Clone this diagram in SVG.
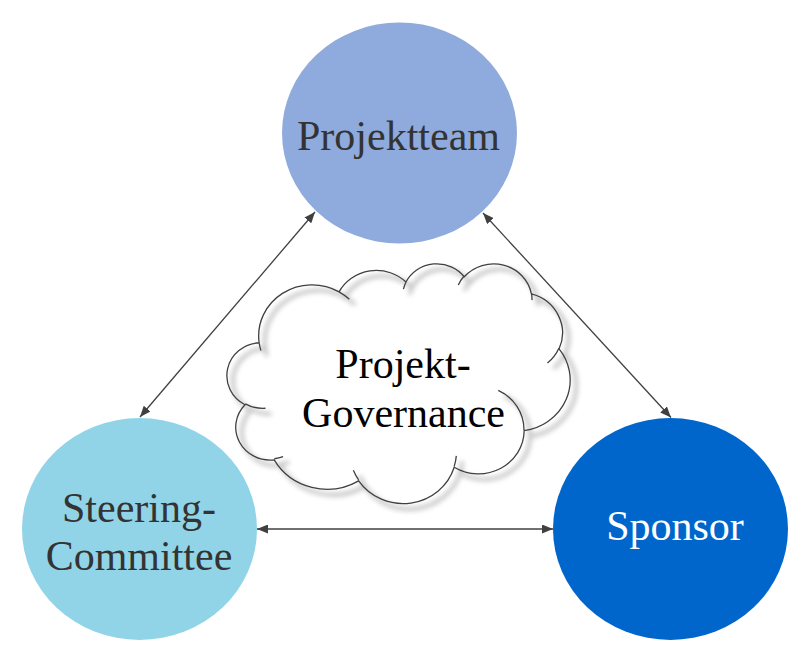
<svg xmlns="http://www.w3.org/2000/svg" width="811" height="669" viewBox="0 0 811 669">
  <style>
    .lbl { font-family: "Liberation Serif", "Times New Roman", serif; font-size: 42px; text-anchor: middle; }
    .dark { fill: #333333; }
    .conn { stroke: #404040; stroke-width: 1.3; fill: none; marker-start: url(#arr); marker-end: url(#arr); }
    .cloudline { fill: none; stroke: #404040; stroke-width: 1.3; }
    .cloudshadow { fill: none; stroke: #8a8a8a; stroke-width: 3.5; }
  </style>
  <defs>
    <marker id="arr" viewBox="0 0 11 9" refX="11" refY="4.5" markerWidth="11" markerHeight="9" markerUnits="userSpaceOnUse" orient="auto-start-reverse">
      <path d="M0,0 L11,4.5 L0,9 z" fill="#404040"/>
    </marker>
    <filter id="blur" x="-10%" y="-10%" width="120%" height="120%">
      <feGaussianBlur stdDeviation="2.6"/>
    </filter>
  </defs>

  <g id="connectors">
    <line class="conn" x1="140" y1="417" x2="315" y2="212"/>
    <line class="conn" x1="483" y1="213" x2="671" y2="417.5"/>
    <line class="conn" x1="257" y1="529" x2="553" y2="529"/>
  </g>

  <g id="node-projektteam">
    <ellipse cx="399.5" cy="133" rx="117.5" ry="110.5" fill="#8FAADC"/>
    <text class="lbl dark" x="398.5" y="150">Projektteam</text>
  </g>

  <g id="node-steering">
    <ellipse cx="139.5" cy="529" rx="117.5" ry="111" fill="#91D4E8"/>
    <text class="lbl dark" x="139" y="522">Steering-</text>
    <text class="lbl dark" x="139" y="570">Committee</text>
  </g>

  <g id="node-sponsor">
    <ellipse cx="670.5" cy="529" rx="117.5" ry="111" fill="#0066CC"/>
    <text class="lbl" fill="#FFFFFF" x="675" y="540">Sponsor</text>
  </g>

  <g id="node-governance">
    <g filter="url(#blur)" opacity="0.55">
      <path class="cloudshadow" transform="translate(6,5.5)" d="M 259.15 342.73 A 53.41 50.99 0 0 1 339.08 291.86 A 42.18 40.32 0 0 1 405.94 282.06 A 34.53 32.99 0 0 1 464.29 276.78 A 38.42 36.59 0 0 1 531.41 293.96 A 42.18 40.36 0 0 1 559.09 348.79 A 53.59 51.16 0 0 1 524.18 430.6 A 45.76 43.65 0 0 1 454.19 467.27 A 53.41 51.13 0 0 1 358.67 480.86 A 61.06 58.5 0 0 1 274.22 459.8 A 34.49 32.84 0 0 1 245.02 404.75 A 34.37 32.99 0 0 1 259.15 342.73 Z M 265.42 408.25 A 34.37 32.99 0 0 1 245.38 403.82 M 283.1 456.64 A 34.49 32.84 0 0 1 274.33 458.75 M 358.64 479.89 A 53.41 51.13 0 0 1 353.36 470.25 M 456.31 455.82 A 53.41 51.13 0 0 1 454.2 466.42 M 498.25 390.36 A 45.76 43.65 0 0 1 523.97 429.96 M 558.91 348.19 A 42.18 40.36 0 0 1 547.46 363.04 M 531.43 293.11 A 38.42 36.59 0 0 1 532.03 300.12 M 458.3 284.93 A 38.42 36.59 0 0 1 464.17 275.98 M 403.43 289.19 A 34.53 32.99 0 0 1 406.27 281.48 M 339.04 291.81 A 53.41 50.99 0 0 1 349.33 299.3 M 260.94 350.61 A 53.41 50.99 0 0 1 259.15 342.73"/>
    </g>
    <path class="cloudline" d="M 259.15 342.73 A 53.41 50.99 0 0 1 339.08 291.86 A 42.18 40.32 0 0 1 405.94 282.06 A 34.53 32.99 0 0 1 464.29 276.78 A 38.42 36.59 0 0 1 531.41 293.96 A 42.18 40.36 0 0 1 559.09 348.79 A 53.59 51.16 0 0 1 524.18 430.6 A 45.76 43.65 0 0 1 454.19 467.27 A 53.41 51.13 0 0 1 358.67 480.86 A 61.06 58.5 0 0 1 274.22 459.8 A 34.49 32.84 0 0 1 245.02 404.75 A 34.37 32.99 0 0 1 259.15 342.73 Z M 265.42 408.25 A 34.37 32.99 0 0 1 245.38 403.82 M 283.1 456.64 A 34.49 32.84 0 0 1 274.33 458.75 M 358.64 479.89 A 53.41 51.13 0 0 1 353.36 470.25 M 456.31 455.82 A 53.41 51.13 0 0 1 454.2 466.42 M 498.25 390.36 A 45.76 43.65 0 0 1 523.97 429.96 M 558.91 348.19 A 42.18 40.36 0 0 1 547.46 363.04 M 531.43 293.11 A 38.42 36.59 0 0 1 532.03 300.12 M 458.3 284.93 A 38.42 36.59 0 0 1 464.17 275.98 M 403.43 289.19 A 34.53 32.99 0 0 1 406.27 281.48 M 339.04 291.81 A 53.41 50.99 0 0 1 349.33 299.3 M 260.94 350.61 A 53.41 50.99 0 0 1 259.15 342.73"/>
    <text class="lbl" fill="#000000" x="403" y="378">Projekt-</text>
    <text class="lbl" fill="#000000" x="403.5" y="427">Governance</text>
  </g>
</svg>
